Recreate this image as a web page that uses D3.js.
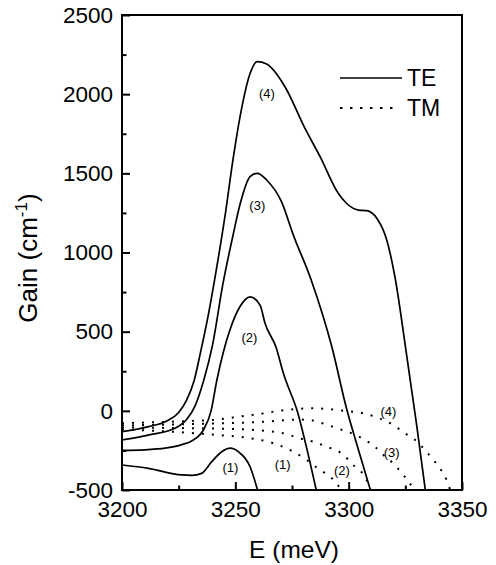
<!DOCTYPE html>
<html>
<head>
<meta charset="utf-8">
<script src="https://cdn.jsdelivr.net/npm/d3@7"></script>
<style>
  html, body { margin: 0; padding: 0; background: #fff; }
  svg { display: block; }
  text { font-family: "Liberation Sans", Arial, Helvetica, sans-serif; fill: #000; }
</style>
</head>
<body>
<svg id="chart" width="496" height="565"></svg>
<script>
// ---------- data (E in meV, gain in cm^-1) ----------
const te1 = [[3200,-342],[3211.6,-363],[3226.3,-405],[3231,-408],[3235.1,-395],[3239.6,-321],[3244,-258],[3247.8,-236],[3251.3,-258],[3256.5,-353],[3260,-510]];
const te2 = [[3200,-250],[3210,-246],[3219,-236],[3226,-215],[3230.7,-190],[3235.9,-121],[3239.3,0],[3241.8,190],[3244.7,370],[3247.6,510],[3252,657],[3256.5,720],[3260.9,668],[3263.1,553],[3268,400],[3271.2,237],[3277.6,-15],[3282,-267],[3286,-520]];
const te3 = [[3200,-184],[3211.6,-153],[3223.4,-110],[3228.5,-55],[3232.2,30],[3236,190],[3240,420],[3244.5,800],[3249,1110],[3252,1300],[3256.5,1479],[3259.7,1500],[3263.8,1458],[3270.4,1320],[3275.6,1110],[3283.5,825],[3292.6,403],[3299,18],[3304.4,-250],[3310,-520]];
const te4 = [[3200,-132],[3211.6,-100],[3220,-62],[3225,-10],[3228.5,68],[3231.8,190],[3234.8,380],[3238,600],[3241,840],[3245.4,1226],[3249,1590],[3252.5,1890],[3256.5,2131],[3259.6,2205],[3263.8,2190],[3271.9,2047],[3280.5,1790],[3287.4,1605],[3295.4,1374],[3299,1311],[3304.3,1268],[3308,1264],[3312.4,1216],[3316.8,1079],[3320.4,847],[3325.5,360],[3330,-90],[3334,-520]];
const tm1 = [[3200,-118],[3220,-130],[3240,-150],[3253.5,-167],[3266.8,-205],[3275.6,-258],[3281.5,-311],[3287.4,-374],[3291.8,-416],[3294.7,-458],[3297,-510]];
const tm2 = [[3200,-105],[3220,-108],[3240,-112],[3253.5,-117],[3266.8,-132],[3271.2,-142],[3278.5,-174],[3284.4,-195],[3290.3,-227],[3296.2,-262],[3302.8,-353],[3307.2,-416],[3310,-510]];
const tm3 = [[3200,-92],[3220,-87],[3243.3,-79],[3262.3,-69],[3271.2,-60],[3278,-55],[3283,-58],[3287,-72],[3292,-96],[3297.6,-123],[3303.5,-155],[3307.2,-184],[3311.6,-227],[3315.3,-279],[3319.7,-332],[3324.1,-405],[3327,-458],[3329,-510]];
const tm4 = [[3200,-78],[3215,-72],[3230,-64],[3243,-54],[3252,-36],[3262.4,-16],[3266.8,-5],[3275.6,10],[3283,16],[3291.8,10],[3297.5,1],[3306.5,-16],[3311.6,-37],[3319.7,-90],[3324.9,-142],[3329.3,-184],[3333.7,-248],[3337.4,-311],[3340.3,-363],[3343.2,-437],[3345,-510]];

const xMajorTicks = [3200, 3250, 3300, 3350];
const xMinorTicks = [3225, 3275, 3325];
const yMajorTicks = [-500, 0, 500, 1000, 1500, 2000, 2500];
const yMinorTicks = [-250, 250, 750, 1250, 1750, 2250];

const curveLabels = ["(1)", "(2)", "(3)", "(4)", "(1)", "(2)", "(3)", "(4)"];
const curveLabelE = [3247.8, 3256.2, 3259.7, 3263.9, 3270.9, 3297, 3319, 3317.5];
const curveLabelG = [-355, 462, 1300, 2005, -342, -375, -260, -7];

const legendNames = ["TE", "TM"];

// ---------- layout ----------
const svg = d3.select("#chart");
const L = 122, R = 462, T = 15, B = 490;
const x = d3.scaleLinear().domain([3200, 3350]).range([L, R]);
const y = d3.scaleLinear().domain([-500, 2500]).range([B, T]);

svg.append("defs").append("clipPath").attr("id", "plotclip")
  .append("rect").attr("x", L).attr("y", T).attr("width", R - L).attr("height", B - T);

const line = d3.line().x(d => x(d[0])).y(d => y(d[1])).curve(d3.curveMonotoneX);

const plot = svg.append("g").attr("clip-path", "url(#plotclip)");

// TM dotted curves
[tm1, tm2, tm3, tm4].forEach(s => {
  plot.append("path").datum(s).attr("d", line)
    .attr("fill", "none").attr("stroke", "#000").attr("stroke-width", 2)
    .attr("stroke-dasharray", "2,8");
});
// TE solid curves
[te1, te2, te3, te4].forEach(s => {
  plot.append("path").datum(s).attr("d", line)
    .attr("fill", "none").attr("stroke", "#000").attr("stroke-width", 1.7)
    .attr("stroke-linejoin", "round");
});

// curve labels
svg.append("g").selectAll("text").data(curveLabels).join("text")
  .attr("x", (d, i) => x(curveLabelE[i]))
  .attr("y", (d, i) => y(curveLabelG[i]))
  .attr("text-anchor", "middle").attr("dominant-baseline", "central")
  .attr("font-size", 13).text(d => d);

// ---------- axes ----------
const fmt = d => String(d);
const yAxis = d3.axisLeft(y).tickValues(yMajorTicks).tickSize(-8).tickPadding(9).tickFormat(fmt);
const gy = svg.append("g").attr("transform", `translate(${L},0)`).call(yAxis);
const yAxisMinor = d3.axisLeft(y).tickValues(yMinorTicks).tickSize(-4.5).tickFormat("");
const gym = svg.append("g").attr("transform", `translate(${L},0)`).call(yAxisMinor);

const xAxis = d3.axisBottom(x).tickValues(xMajorTicks).tickSize(-8).tickPadding(12).tickFormat(fmt);
const gx = svg.append("g").attr("transform", `translate(0,${B})`).call(xAxis);
const xAxisMinor = d3.axisBottom(x).tickValues(xMinorTicks).tickSize(-4.5).tickFormat("");
const gxm = svg.append("g").attr("transform", `translate(0,${B})`).call(xAxisMinor);

[gy, gym, gx, gxm].forEach(g => {
  g.select(".domain").remove();
  g.selectAll(".tick line").attr("stroke", "#000").attr("stroke-width", 2);
  g.selectAll("text").attr("font-size", 22.5).attr("fill", "#000")
    .style("font-family", '"Liberation Sans", Arial, sans-serif');
});
gx.selectAll(".tick text").attr("dy", null).attr("y", 27);

// frame
svg.append("rect").attr("x", L).attr("y", T).attr("width", R - L).attr("height", B - T)
  .attr("fill", "none").attr("stroke", "#000").attr("stroke-width", 2);

// axis titles
svg.append("text").attr("x", (L + R) / 2 + 2).attr("y", 558)
  .attr("text-anchor", "middle").attr("font-size", 24.5).text("E (meV)");

const yt = svg.append("text")
  .attr("transform", "translate(37,258) rotate(-90)")
  .attr("text-anchor", "middle").attr("font-size", 26);
yt.append("tspan").text("Gain (cm");
yt.append("tspan").attr("font-size", 17).attr("dy", -10).text("-1");
yt.append("tspan").attr("dy", 10).text(")");

// ---------- legend ----------
const leg = svg.append("g");
legendNames.forEach((name, i) => {
  const ly = 78 + i * 30;
  leg.append("line").attr("x1", 340).attr("x2", i === 0 ? 402 : 396).attr("y1", ly).attr("y2", ly)
    .attr("stroke", "#000").attr("stroke-width", i === 0 ? 1.7 : 2)
    .attr("stroke-dasharray", i === 0 ? null : "2.5,7.5");
  leg.append("text").attr("x", 407).attr("y", ly).attr("dominant-baseline", "central")
    .attr("font-size", 23).text(name);
});
</script>
</body>
</html>
